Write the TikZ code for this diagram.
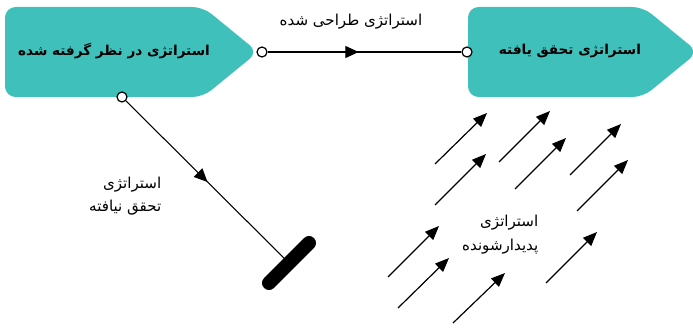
\documentclass[tikz,border=0pt]{standalone}
\usepackage{fontspec}
\newfontfamily\fa[Script=Arabic]{DejaVu Sans}
\TeXXeTstate=1
\usetikzlibrary{arrows.meta,decorations.markings,calc}
\definecolor{teal1}{RGB}{64,192,187}
\begin{document}
\begin{tikzpicture}[x=0.75pt,y=-0.75pt,
 box/.style={fill=teal1, rounded corners=8pt},
 port/.style={circle, draw, fill=white, line width=0.9pt, inner sep=0pt, minimum size=7.5pt},
 boxtext/.style={font=\fa\bfseries\fontsize{10.2}{13}\selectfont},
 lbl/.style={font=\fa\fontsize{11.3}{17}\selectfont, align=right},
 flow/.style={line width=0.8pt, postaction={decorate}, decoration={markings, mark=at position #1 with {\arrow{Triangle[length=10pt,width=9pt]}}}},
 emerge/.style={line width=0.9pt, -{Triangle[length=10.5pt,width=8.5pt]}},
 blk/.style={line width=10.5pt, line cap=round}
]
\useasboundingbox (0,0) rectangle (693,328);
\clip (0,0) rectangle (693,328);
% boxes
\fill[box] (5,7) -- (203,7) -- (258,52) -- (203,97) -- (5,97) -- cycle;
\fill[box] (468,7) -- (643,7) -- (698,52) -- (643,97) -- (468,97) -- cycle;
\node[boxtext] (t1) at (114,51) {\beginR استراتژی در نظر گرفته شده\endR};
\node[boxtext] (t2) at (570,51) {\beginR استراتژی تحقق یافته\endR};
% ports
\node[port] (p1) at (262,52) {};
\node[port] (p2) at (122,97) {};
\node[port] (p3) at (467,52) {};
\coordinate (e) at (289,263);
% connectors
\draw[flow=0.47] (p1) -- (p3);
\draw[flow=0.5] (p2) -- (e);
\draw[blk] ($(e)+(-20,20)$) -- ($(e)+(20,-20)$);
% labels
\node[lbl] (l1) at (351,22) {\beginR استراتژی طراحی شده\endR};
\node[lbl, anchor=east] (l2) at (166,196) {\beginR استراتژی\endR\\\beginR تحقق نیافته\endR};
\node[lbl, anchor=east] (l3) at (543,235) {\beginR استراتژی\endR\\[1pt]\beginR پدیدارشونده\endR};
% emergent arrows
\foreach \ax/\ay/\bx/\by in {435/164/487/113, 499/162/550/111, 570/175/621/124, 435/205/486/154, 515/189/566/138, 577/211/628/160, 388/277/439/226, 398/308/449/258, 453/323/505/273, 546/283/597/232}
  \draw[emerge] (\ax,\ay) -- (\bx,\by);
\end{tikzpicture}
\end{document}
